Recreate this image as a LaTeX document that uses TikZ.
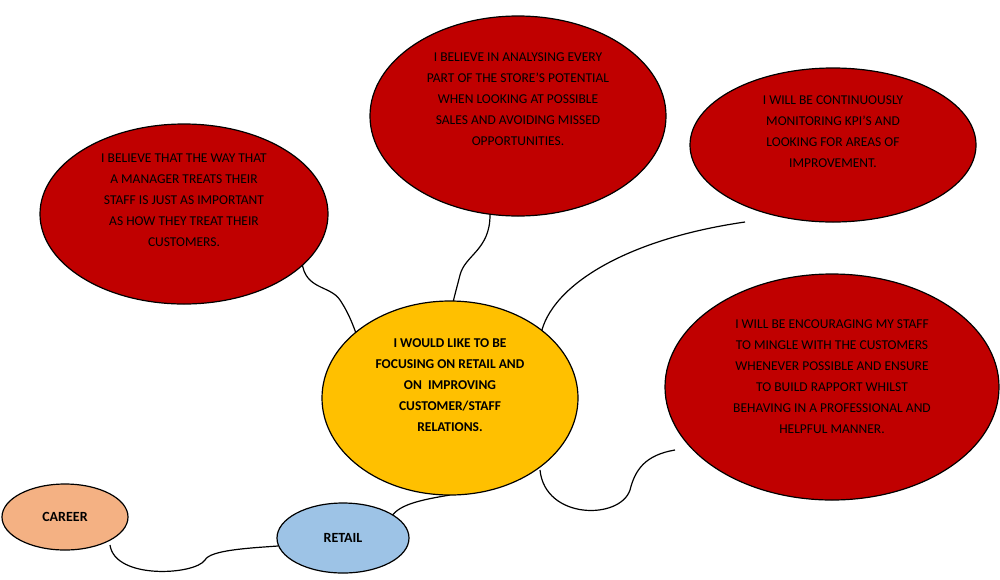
\documentclass[tikz,border=0pt]{standalone}
\usepackage{fontspec}
\setmainfont{Carlito}
\usetikzlibrary{shapes.geometric}
\definecolor{darkred}{HTML}{C00000}
\definecolor{gold}{HTML}{FFC000}
\definecolor{peach}{HTML}{F4B183}
\definecolor{skyblue}{HTML}{9DC3E6}
\tikzset{
  idea/.style={draw,ellipse,line width=1.2pt,fill=darkred,inner sep=0pt,align=center,font=\fontsize{13.5}{21}\selectfont},
  hub/.style={draw,ellipse,line width=1.2pt,fill=gold,inner sep=0pt,align=center,font=\bfseries\fontsize{13.5}{21}\selectfont},
  tag/.style={draw,ellipse,line width=1.2pt,inner sep=0pt,font=\bfseries\fontsize{14}{16}\selectfont},
  link/.style={line width=1.2pt}
}
\begin{document}
\begin{tikzpicture}[x=1pt,y=-1pt]
  \useasboundingbox (0,0) rectangle (1000,579);
  % connectors first
  \draw[link] (302,262) .. controls (305,290) and (330,285) .. (340,300) .. controls (350,315) and (355,330) .. (360,345);
  \draw[link] (490,215) .. controls (490,250) and (465,255) .. (460,275) .. controls (455,295) and (450,310) .. (450,325);
  \draw[link] (745,222) .. controls (620,240) and (545,290) .. (540,340);
  \draw[link] (675,450) .. controls (645,455) and (635,470) .. (630,490) .. controls (620,520) and (545,520) .. (540,470);
  \draw[link] (450,495) .. controls (420,500) and (395,505) .. (390,520);
  \draw[link] (278,546) .. controls (250,548) and (210,550) .. (205,560) .. controls (195,575) and (115,580) .. (110,545);
  % ellipses
  \node[idea,minimum width=288pt,minimum height=180pt] (staff) at (184,214)
    {I BELIEVE THAT THE WAY THAT\\A MANAGER TREATS THEIR\\STAFF IS JUST AS IMPORTANT\\AS HOW THEY TREAT THEIR\\CUSTOMERS.\\[6pt]};
  \node[idea,minimum width=296pt,minimum height=200pt] (store) at (518,116)
    {I BELIEVE IN ANALYSING EVERY\\PART OF THE STORE’S POTENTIAL\\WHEN LOOKING AT POSSIBLE\\SALES AND AVOIDING MISSED\\OPPORTUNITIES.\\[12pt]};
  \node[idea,minimum width=286pt,minimum height=154pt] (kpi) at (833,145)
    {I WILL BE CONTINUOUSLY\\MONITORING KPI’S AND\\LOOKING FOR AREAS OF\\IMPROVEMENT.\\[6pt]};
  \node[idea,minimum width=334pt,minimum height=226pt] (mingle) at (832,387)
    {I WILL BE ENCOURAGING MY STAFF\\TO MINGLE WITH THE CUSTOMERS\\WHENEVER POSSIBLE AND ENSURE\\TO BUILD RAPPORT WHILST\\BEHAVING IN A PROFESSIONAL AND\\HELPFUL MANNER.\\[0pt]};
  \node[hub,minimum width=256pt,minimum height=194pt] (goal) at (450,398)
    {I WOULD LIKE TO BE\\FOCUSING ON RETAIL AND\\ON\ \ IMPROVING\\CUSTOMER/STAFF\\RELATIONS.\\[4pt]};
  \node[tag,fill=peach,minimum width=126pt,minimum height=66pt] (career) at (65,517) {CAREER};
  \node[tag,fill=skyblue,minimum width=132pt,minimum height=70pt] (retail) at (343,538) {RETAIL};
\end{tikzpicture}
\end{document}
